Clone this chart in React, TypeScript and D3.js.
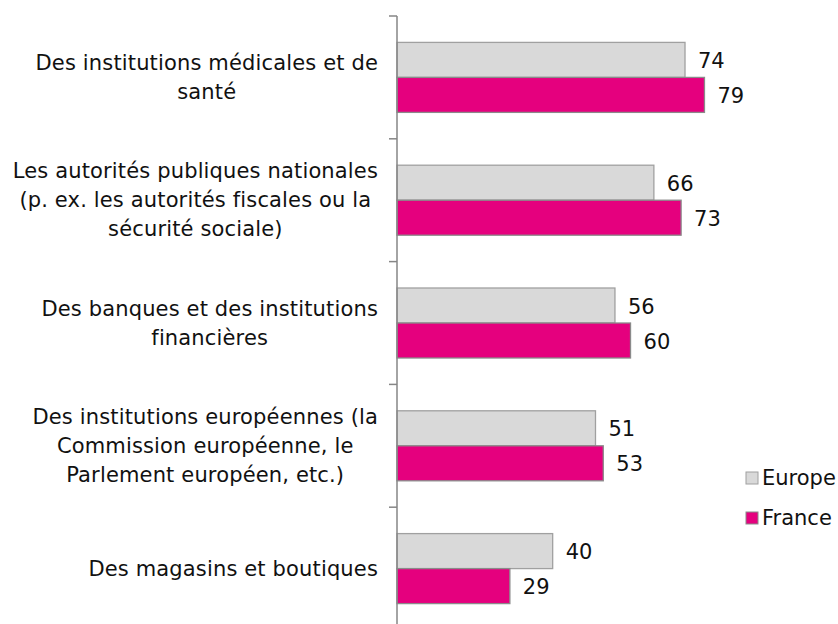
import React from "react";
import * as d3 from "d3";

const categories: string[][] = [
  ["Des institutions médicales et de", "santé"],
  ["Les autorités publiques nationales", "(p. ex. les autorités fiscales ou la", "sécurité sociale)"],
  ["Des banques et des institutions", "financières"],
  ["Des institutions européennes (la", "Commission européenne, le", "Parlement européen, etc.)"],
  ["Des magasins et boutiques"],
];
const europe: number[] = [74, 66, 56, 51, 40];
const france: number[] = [79, 73, 60, 53, 29];
const seriesNames: string[] = ["Europe", "France"];

const W = 838;
const H = 624;
const FONT = "DejaVu Sans, Verdana, sans-serif";
const LABEL_SIZE = 21;
const LS = 0.15;
const colors = ["#d9d9d9", "#e5007e"];
const strokes = ["#a0a0a0", "#8a8a8a"];

function measure(text: string, size: number): number {
  const c = document.createElement("canvas");
  const ctx = c.getContext("2d")!;
  ctx.font = `${size}px DejaVu Sans`;
  return ctx.measureText(text).width + text.length * LS;
}

export default function App() {
  const axisX = 397;
  const y = d3.scaleBand<number>().domain(d3.range(categories.length)).range([16, 630]).padding(0);
  const x = d3.scaleLinear().domain([0, 100]).range([axisX, axisX + 389.2]);
  const barH = 35;
  const series = [europe, france];
  const lineH = 29;
  const labelRight = 378;

  return (
    <svg width={W} height={H} style={{ position: "absolute", left: 0, top: 0, fontFamily: FONT }}>
      {categories.map((lines, i) => {
        const cy = y(i)! + y.bandwidth() / 2;
        const maxW = Math.max(...lines.map((l) => measure(l, LABEL_SIZE)));
        const cx = labelRight - maxW / 2;
        const y0 = cy - ((lines.length - 1) * lineH) / 2;
        return (
          <g key={i}>
            {lines.map((l, j) => (
              <text key={j} x={cx} y={y0 + j * lineH} textAnchor="middle" dominantBaseline="central" fontSize={LABEL_SIZE} letterSpacing={LS} fill="#111">
                {l}
              </text>
            ))}
            {series.map((s, k) => {
              const by = cy - barH + k * barH;
              return (
                <g key={k}>
                  <rect x={x(0)} y={by} width={x(s[i]) - x(0)} height={barH} fill={colors[k]} stroke={strokes[k]} strokeWidth={1.3} />
                  <text x={x(s[i]) + 13} y={by + barH / 2 + 1} dominantBaseline="central" fontSize={21} fill="#111">
                    {s[i]}
                  </text>
                </g>
              );
            })}
          </g>
        );
      })}
      <line x1={axisX} x2={axisX} y1={16} y2={H} stroke="#868686" strokeWidth={1.5} />
      {d3.range(categories.length + 1).map((i) => {
        const ty = 16 + i * y.step();
        return <line key={i} x1={axisX - 8} x2={axisX} y1={ty} y2={ty} stroke="#868686" strokeWidth={1.5} />;
      })}
      {seriesNames.map((n, k) => {
        const ly = 478 + k * 40;
        return (
          <g key={n}>
            <rect x={746} y={ly - 6} width={12} height={12} fill={colors[k]} stroke={strokes[k]} strokeWidth={1} />
            <text x={762} y={ly} dominantBaseline="central" fontSize={21} fill="#111">
              {n}
            </text>
          </g>
        );
      })}
    </svg>
  );
}
